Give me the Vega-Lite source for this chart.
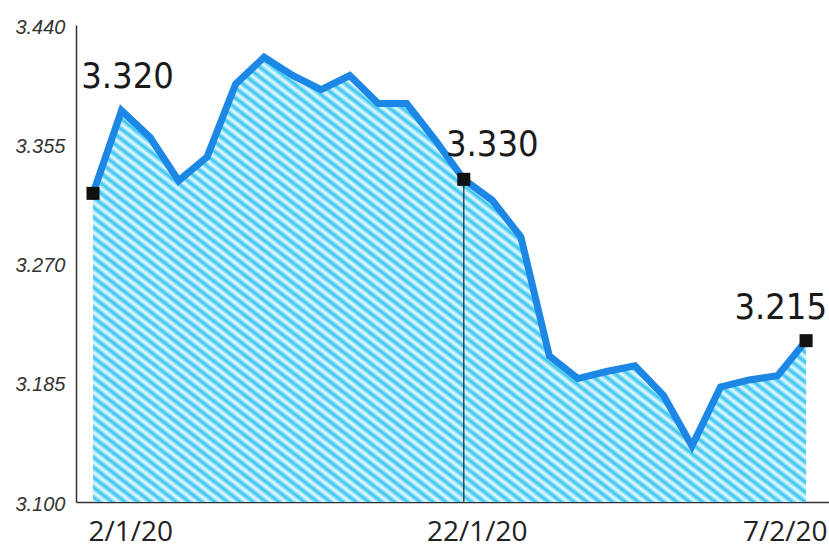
{
  "$schema": "https://vega.github.io/schema/vega-lite/v6.json",
  "width": 753,
  "height": 477,
  "autosize": {"type": "none"},
  "padding": {"left": 76, "top": 25, "right": 0, "bottom": 46},
  "background": "white",
  "config": {"view": {"stroke": null}},
  "data": {
    "values": [
      {"date": "2/1/20", "value": 3.320},
      {"date": "3/1/20", "value": 3.379},
      {"date": "7/1/20", "value": 3.360},
      {"date": "8/1/20", "value": 3.329},
      {"date": "9/1/20", "value": 3.346},
      {"date": "10/1/20", "value": 3.398},
      {"date": "13/1/20", "value": 3.417},
      {"date": "14/1/20", "value": 3.404},
      {"date": "15/1/20", "value": 3.394},
      {"date": "16/1/20", "value": 3.404},
      {"date": "17/1/20", "value": 3.384},
      {"date": "20/1/20", "value": 3.384},
      {"date": "21/1/20", "value": 3.358},
      {"date": "22/1/20", "value": 3.330},
      {"date": "23/1/20", "value": 3.315},
      {"date": "24/1/20", "value": 3.289},
      {"date": "27/1/20", "value": 3.204},
      {"date": "28/1/20", "value": 3.188},
      {"date": "29/1/20", "value": 3.193},
      {"date": "30/1/20", "value": 3.197},
      {"date": "31/1/20", "value": 3.176},
      {"date": "3/2/20", "value": 3.140},
      {"date": "4/2/20", "value": 3.182},
      {"date": "5/2/20", "value": 3.187},
      {"date": "6/2/20", "value": 3.190},
      {"date": "7/2/20", "value": 3.215}
    ]
  },
  "encoding": {
    "x": {
      "field": "date", "type": "ordinal", "sort": null,
      "scale": {"type": "point", "padding": 0.7, "align": 0.426},
      "axis": {
        "values": ["2/1/20", "22/1/20", "7/2/20"],
        "title": null, "labelAngle": 0, "ticks": false, "tickSize": 0, "grid": false,
        "labelFont": "Open Sans", "labelFontSize": 28, "labelColor": "#222",
        "labelBaseline": "alphabetic", "labelPadding": 38,
        "labelOverlap": false, "labelFlush": false, "labelBound": false,
        "domainColor": "#333", "domainWidth": 1.5,
        "labelAlign": {"condition": [{"test": "datum.value === '2/1/20'", "value": "left"}, {"test": "datum.value === '7/2/20'", "value": "right"}], "value": "center"},
        "labelOffset": {"condition": [{"test": "datum.value === '2/1/20'", "value": -5}, {"test": "datum.value === '7/2/20'", "value": 21}], "value": 13}
      }
    },
    "y": {
      "field": "value", "type": "quantitative",
      "scale": {"domain": [3.1, 3.44], "nice": false, "zero": false},
      "axis": {
        "values": [3.1, 3.185, 3.27, 3.355, 3.44], "format": ".3f",
        "title": null, "ticks": false, "tickSize": 0, "grid": false,
        "labelFont": "Liberation Sans", "labelFontStyle": "italic", "labelFontSize": 20,
        "labelColor": "#333", "labelPadding": 11, "labelOverlap": false, "labelFlush": false,
        "labelOffset": 2,
        "domainColor": "#333", "domainWidth": 1.5
      }
    }
  },
  "layer": [
    {
      "mark": {
        "type": "area", "fillOpacity": 1,
        "fill": {
          "gradient": "linear", "x1": 0, "y1": 1, "x2": 1.097, "y2": 0.122,
          "stops": [
{"offset":0,"color":"#ebfbff"},{"offset":0.005,"color":"#34c3ef"},{"offset":0.01,"color":"#ebfbff"},{"offset":0.015,"color":"#34c3ef"},{"offset":0.02,"color":"#ebfbff"},{"offset":0.025,"color":"#34c3ef"},{"offset":0.03,"color":"#ebfbff"},{"offset":0.035,"color":"#34c3ef"},{"offset":0.04,"color":"#ebfbff"},{"offset":0.045,"color":"#34c3ef"},
{"offset":0.05,"color":"#ebfbff"},{"offset":0.055,"color":"#34c3ef"},{"offset":0.06,"color":"#ebfbff"},{"offset":0.065,"color":"#34c3ef"},{"offset":0.07,"color":"#ebfbff"},{"offset":0.075,"color":"#34c3ef"},{"offset":0.08,"color":"#ebfbff"},{"offset":0.085,"color":"#34c3ef"},{"offset":0.09,"color":"#ebfbff"},{"offset":0.095,"color":"#34c3ef"},
{"offset":0.1,"color":"#ebfbff"},{"offset":0.105,"color":"#34c3ef"},{"offset":0.11,"color":"#ebfbff"},{"offset":0.115,"color":"#34c3ef"},{"offset":0.12,"color":"#ebfbff"},{"offset":0.125,"color":"#34c3ef"},{"offset":0.13,"color":"#ebfbff"},{"offset":0.135,"color":"#34c3ef"},{"offset":0.14,"color":"#ebfbff"},{"offset":0.145,"color":"#34c3ef"},
{"offset":0.15,"color":"#ebfbff"},{"offset":0.155,"color":"#34c3ef"},{"offset":0.16,"color":"#ebfbff"},{"offset":0.165,"color":"#34c3ef"},{"offset":0.17,"color":"#ebfbff"},{"offset":0.175,"color":"#34c3ef"},{"offset":0.18,"color":"#ebfbff"},{"offset":0.185,"color":"#34c3ef"},{"offset":0.19,"color":"#ebfbff"},{"offset":0.195,"color":"#34c3ef"},
{"offset":0.2,"color":"#ebfbff"},{"offset":0.205,"color":"#34c3ef"},{"offset":0.21,"color":"#ebfbff"},{"offset":0.215,"color":"#34c3ef"},{"offset":0.22,"color":"#ebfbff"},{"offset":0.225,"color":"#34c3ef"},{"offset":0.23,"color":"#ebfbff"},{"offset":0.235,"color":"#34c3ef"},{"offset":0.24,"color":"#ebfbff"},{"offset":0.245,"color":"#34c3ef"},
{"offset":0.25,"color":"#ebfbff"},{"offset":0.255,"color":"#34c3ef"},{"offset":0.26,"color":"#ebfbff"},{"offset":0.265,"color":"#34c3ef"},{"offset":0.27,"color":"#ebfbff"},{"offset":0.275,"color":"#34c3ef"},{"offset":0.28,"color":"#ebfbff"},{"offset":0.285,"color":"#34c3ef"},{"offset":0.29,"color":"#ebfbff"},{"offset":0.295,"color":"#34c3ef"},
{"offset":0.3,"color":"#ebfbff"},{"offset":0.305,"color":"#34c3ef"},{"offset":0.31,"color":"#ebfbff"},{"offset":0.315,"color":"#34c3ef"},{"offset":0.32,"color":"#ebfbff"},{"offset":0.325,"color":"#34c3ef"},{"offset":0.33,"color":"#ebfbff"},{"offset":0.335,"color":"#34c3ef"},{"offset":0.34,"color":"#ebfbff"},{"offset":0.345,"color":"#34c3ef"},
{"offset":0.35,"color":"#ebfbff"},{"offset":0.355,"color":"#34c3ef"},{"offset":0.36,"color":"#ebfbff"},{"offset":0.365,"color":"#34c3ef"},{"offset":0.37,"color":"#ebfbff"},{"offset":0.375,"color":"#34c3ef"},{"offset":0.38,"color":"#ebfbff"},{"offset":0.385,"color":"#34c3ef"},{"offset":0.39,"color":"#ebfbff"},{"offset":0.395,"color":"#34c3ef"},
{"offset":0.4,"color":"#ebfbff"},{"offset":0.405,"color":"#34c3ef"},{"offset":0.41,"color":"#ebfbff"},{"offset":0.415,"color":"#34c3ef"},{"offset":0.42,"color":"#ebfbff"},{"offset":0.425,"color":"#34c3ef"},{"offset":0.43,"color":"#ebfbff"},{"offset":0.435,"color":"#34c3ef"},{"offset":0.44,"color":"#ebfbff"},{"offset":0.445,"color":"#34c3ef"},
{"offset":0.45,"color":"#ebfbff"},{"offset":0.455,"color":"#34c3ef"},{"offset":0.46,"color":"#ebfbff"},{"offset":0.465,"color":"#34c3ef"},{"offset":0.47,"color":"#ebfbff"},{"offset":0.475,"color":"#34c3ef"},{"offset":0.48,"color":"#ebfbff"},{"offset":0.485,"color":"#34c3ef"},{"offset":0.49,"color":"#ebfbff"},{"offset":0.495,"color":"#34c3ef"},
{"offset":0.5,"color":"#ebfbff"},{"offset":0.505,"color":"#34c3ef"},{"offset":0.51,"color":"#ebfbff"},{"offset":0.515,"color":"#34c3ef"},{"offset":0.52,"color":"#ebfbff"},{"offset":0.525,"color":"#34c3ef"},{"offset":0.53,"color":"#ebfbff"},{"offset":0.535,"color":"#34c3ef"},{"offset":0.54,"color":"#ebfbff"},{"offset":0.545,"color":"#34c3ef"},
{"offset":0.55,"color":"#ebfbff"},{"offset":0.555,"color":"#34c3ef"},{"offset":0.56,"color":"#ebfbff"},{"offset":0.565,"color":"#34c3ef"},{"offset":0.57,"color":"#ebfbff"},{"offset":0.575,"color":"#34c3ef"},{"offset":0.58,"color":"#ebfbff"},{"offset":0.585,"color":"#34c3ef"},{"offset":0.59,"color":"#ebfbff"},{"offset":0.595,"color":"#34c3ef"},
{"offset":0.6,"color":"#ebfbff"},{"offset":0.605,"color":"#34c3ef"},{"offset":0.61,"color":"#ebfbff"},{"offset":0.615,"color":"#34c3ef"},{"offset":0.62,"color":"#ebfbff"},{"offset":0.625,"color":"#34c3ef"},{"offset":0.63,"color":"#ebfbff"},{"offset":0.635,"color":"#34c3ef"},{"offset":0.64,"color":"#ebfbff"},{"offset":0.645,"color":"#34c3ef"},
{"offset":0.65,"color":"#ebfbff"},{"offset":0.655,"color":"#34c3ef"},{"offset":0.66,"color":"#ebfbff"},{"offset":0.665,"color":"#34c3ef"},{"offset":0.67,"color":"#ebfbff"},{"offset":0.675,"color":"#34c3ef"},{"offset":0.68,"color":"#ebfbff"},{"offset":0.685,"color":"#34c3ef"},{"offset":0.69,"color":"#ebfbff"},{"offset":0.695,"color":"#34c3ef"},
{"offset":0.7,"color":"#ebfbff"},{"offset":0.705,"color":"#34c3ef"},{"offset":0.71,"color":"#ebfbff"},{"offset":0.715,"color":"#34c3ef"},{"offset":0.72,"color":"#ebfbff"},{"offset":0.725,"color":"#34c3ef"},{"offset":0.73,"color":"#ebfbff"},{"offset":0.735,"color":"#34c3ef"},{"offset":0.74,"color":"#ebfbff"},{"offset":0.745,"color":"#34c3ef"},
{"offset":0.75,"color":"#ebfbff"},{"offset":0.755,"color":"#34c3ef"},{"offset":0.76,"color":"#ebfbff"},{"offset":0.765,"color":"#34c3ef"},{"offset":0.77,"color":"#ebfbff"},{"offset":0.775,"color":"#34c3ef"},{"offset":0.78,"color":"#ebfbff"},{"offset":0.785,"color":"#34c3ef"},{"offset":0.79,"color":"#ebfbff"},{"offset":0.795,"color":"#34c3ef"},
{"offset":0.8,"color":"#ebfbff"},{"offset":0.805,"color":"#34c3ef"},{"offset":0.81,"color":"#ebfbff"},{"offset":0.815,"color":"#34c3ef"},{"offset":0.82,"color":"#ebfbff"},{"offset":0.825,"color":"#34c3ef"},{"offset":0.83,"color":"#ebfbff"},{"offset":0.835,"color":"#34c3ef"},{"offset":0.84,"color":"#ebfbff"},{"offset":0.845,"color":"#34c3ef"},
{"offset":0.85,"color":"#ebfbff"},{"offset":0.855,"color":"#34c3ef"},{"offset":0.86,"color":"#ebfbff"},{"offset":0.865,"color":"#34c3ef"},{"offset":0.87,"color":"#ebfbff"},{"offset":0.875,"color":"#34c3ef"},{"offset":0.88,"color":"#ebfbff"},{"offset":0.885,"color":"#34c3ef"},{"offset":0.89,"color":"#ebfbff"},{"offset":0.895,"color":"#34c3ef"},
{"offset":0.9,"color":"#ebfbff"},{"offset":0.905,"color":"#34c3ef"},{"offset":0.91,"color":"#ebfbff"},{"offset":0.915,"color":"#34c3ef"},{"offset":0.92,"color":"#ebfbff"},{"offset":0.925,"color":"#34c3ef"},{"offset":0.93,"color":"#ebfbff"},{"offset":0.935,"color":"#34c3ef"},{"offset":0.94,"color":"#ebfbff"},{"offset":0.945,"color":"#34c3ef"},
{"offset":0.95,"color":"#ebfbff"},{"offset":0.955,"color":"#34c3ef"},{"offset":0.96,"color":"#ebfbff"},{"offset":0.965,"color":"#34c3ef"},{"offset":0.97,"color":"#ebfbff"},{"offset":0.975,"color":"#34c3ef"},{"offset":0.98,"color":"#ebfbff"},{"offset":0.985,"color":"#34c3ef"},{"offset":0.99,"color":"#ebfbff"},{"offset":0.995,"color":"#34c3ef"},
{"offset":1,"color":"#ebfbff"}
          ]
        }
      },
      "encoding": {"y2": {"datum": 3.1}}
    },
    {
      "transform": [{"filter": "datum.date === '22/1/20'"}],
      "mark": {"type": "rule", "color": "#222", "strokeWidth": 1.2},
      "encoding": {"y2": {"datum": 3.1}}
    },
    {
      "mark": {"type": "line", "color": "#1d87e6", "strokeWidth": 7, "strokeJoin": "miter"}
    },
    {
      "transform": [{"filter": "datum.date === '2/1/20' || datum.date === '22/1/20' || datum.date === '7/2/20'"}],
      "mark": {"type": "point", "shape": "square", "filled": true, "size": 170, "color": "#111", "opacity": 1}
    },
    {
      "transform": [{"filter": "datum.date === '2/1/20'"}],
      "mark": {"type": "text", "font": "DejaVu Sans Condensed", "fontSize": 36, "color": "#1a1a1a", "align": "center", "baseline": "alphabetic", "dx": 34.5, "dy": -105},
      "encoding": {"text": {"field": "value", "type": "quantitative", "format": ".3f"}}
    },
    {
      "transform": [{"filter": "datum.date === '22/1/20'"}],
      "mark": {"type": "text", "font": "DejaVu Sans Condensed", "fontSize": 36, "color": "#1a1a1a", "align": "center", "baseline": "alphabetic", "dx": 28.5, "dy": -23},
      "encoding": {"text": {"field": "value", "type": "quantitative", "format": ".3f"}}
    },
    {
      "transform": [{"filter": "datum.date === '7/2/20'"}],
      "mark": {"type": "text", "font": "DejaVu Sans Condensed", "fontSize": 36, "color": "#1a1a1a", "align": "right", "baseline": "alphabetic", "dx": 21, "dy": -22},
      "encoding": {"text": {"field": "value", "type": "quantitative", "format": ".3f"}}
    }
  ]
}
